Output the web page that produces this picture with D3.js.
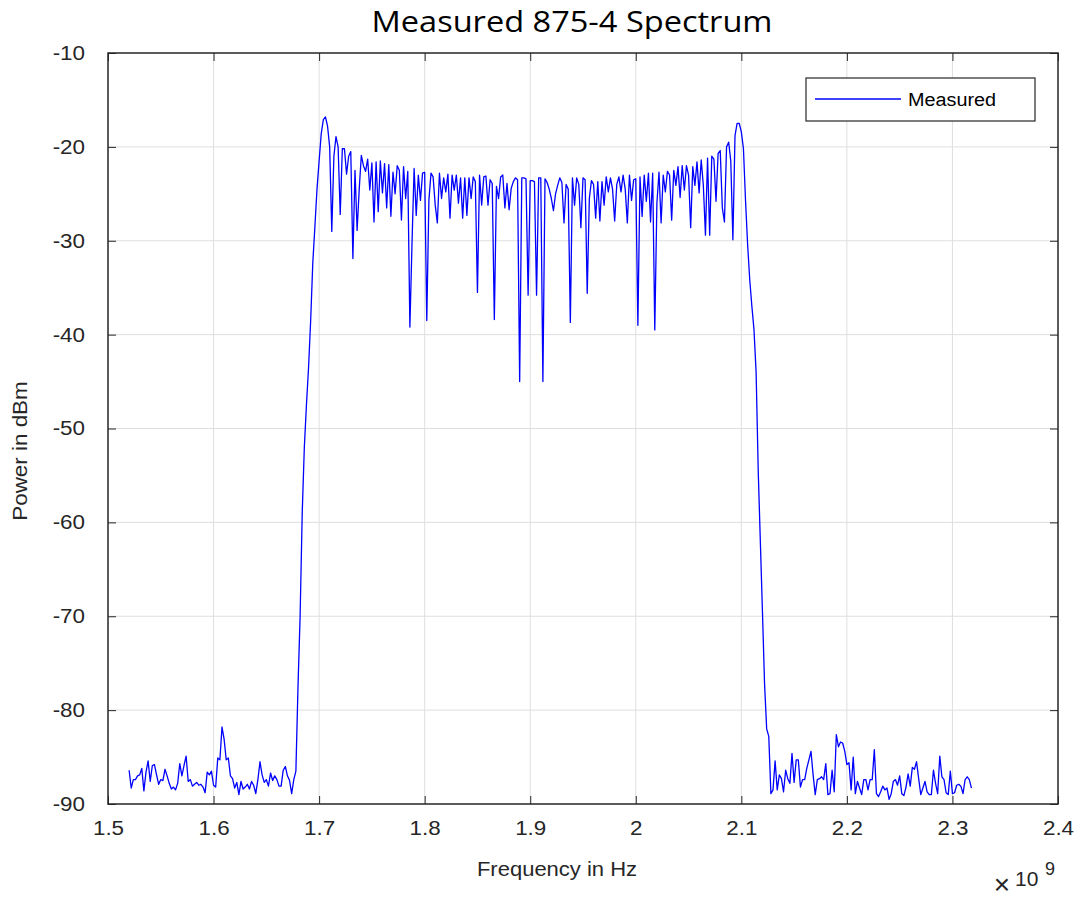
<!DOCTYPE html>
<html>
<head>
<meta charset="utf-8">
<script src="https://cdn.jsdelivr.net/npm/d3@7"></script>
<style>
  html, body { margin: 0; padding: 0; background: #ffffff; }
  svg { display: block; }
</style>
</head>
<body>
<script>
// ---------------- DATA ----------------
const chartTitle = "Measured 875-4 Spectrum";
const xLabel = "Frequency in Hz";
const yLabel = "Power in dBm";
const seriesName = "Measured";

const xTicks = [1.5e9, 1.6e9, 1.7e9, 1.8e9, 1.9e9, 2.0e9, 2.1e9, 2.2e9, 2.3e9, 2.4e9];
const yTicks = [-10, -20, -30, -40, -50, -60, -70, -80, -90];

// uniform sweep: first frequency and spacing of samples (Hz)
const sweepStartHz = 1.52e9;
const sweepStepHz = 2e6;

// measured power (dBm), in sweep order
const noiseLow = [
  -86.4,-88.3,-87.4,-87.4,-87.0,-86.9,-86.2,-88.6,-86.6,-85.4,
  -87.6,-85.9,-85.8,-86.9,-87.9,-87.4,-87.5,-86.3,-87.0,-87.8,
  -88.4,-88.2,-88.5,-87.8,-85.7,-87.0,-85.9,-84.9,-87.6,-87.4,
  -88.1,-87.9,-87.7,-88.0,-87.9,-88.2,-88.8,-86.6,-86.9,-86.5,
  -88.0,-88.2,-85.1,-85.3,-81.8,-83.1,-85.3,-85.1,-87.0,-87.3,
  -88.3,-87.7,-89.0,-87.6,-88.4,-88.2,-87.9,-88.4,-87.6,-88.0,
  -88.9,-87.4,-85.5,-86.9,-87.7,-87.4,-88.1,-86.7,-87.5,-87.0,
  -87.4,-88.1,-88.1,-86.4,-86.0,-87.0,-87.5,-88.9,-87.4
];
const risingEdge = [
  -86.5,-77.5,-70.0,-59.0,-52.0,-47.5,-43.5,-38.5,-32.4,-28.5,
  -24.5,-21.5,-18.6,-17.1,-16.8,-17.8,-20.0,-29.0
];
const passband = [
  -21.0,-18.9,-20.0,-27.2,-20.2,-20.2,-22.9,-21.0,-20.5,-31.9,
  -22.5,-28.9,-24.5,-20.9,-22.0,-22.6,-21.3,-24.6,-21.7,-28.0,
  -21.6,-26.9,-21.5,-24.9,-21.8,-26.5,-21.9,-27.4,-22.7,-25.0,
  -22.0,-22.5,-27.8,-22.1,-25.5,-22.6,-39.2,-30.3,-22.3,-27.3,
  -23.0,-25.7,-22.8,-22.7,-38.5,-25.7,-22.8,-23.2,-26.2,-28.1,
  -22.8,-25.5,-23.3,-24.8,-22.9,-27.6,-23.0,-24.6,-23.0,-26.0,
  -23.3,-27.6,-23.3,-27.3,-23.3,-25.5,-23.2,-23.7,-35.5,-23.0,
  -26.2,-23.2,-23.1,-26.2,-23.5,-23.9,-38.4,-24.2,-25.5,-23.2,
  -23.0,-26.5,-23.9,-26.7,-24.4,-23.7,-23.3,-23.5,-45.0,-23.3,
  -23.3,-23.4,-35.8,-23.6,-23.6,-23.7,-35.8,-23.3,-23.3,-45.0,
  -23.4,-23.8,-24.5,-25.5,-26.8,-25.0,-24.1,-23.3,-23.8,-28.1,
  -24.0,-24.5,-38.7,-23.3,-26.2,-23.3,-24.0,-28.6,-23.3,-23.5,
  -35.6,-25.5,-23.6,-24.0,-27.6,-23.7,-27.9,-23.7,-26.2,-23.2,
  -24.8,-23.3,-24.5,-27.9,-24.0,-23.2,-24.8,-23.0,-24.5,-28.1,
  -23.0,-25.7,-23.5,-23.4,-39.0,-23.2,-27.4,-23.0,-25.8,-22.8,
  -28.0,-22.8,-39.5,-26.0,-22.7,-28.1,-23.0,-24.8,-22.6,-23.0,
  -27.8,-22.5,-24.1,-22.1,-25.4,-22.0,-24.6,-22.0,-23.0,-28.6,
  -22.1,-24.1,-21.6,-24.9,-21.4,-24.1,-29.4,-21.2,-29.4,-21.0,
  -21.3,-25.8,-20.7,-20.4,-26.5,-28.0,-20.0,-19.5,-21.5,-29.9,
  -18.8,-17.5,-17.5,-18.4,-20.2
];
const fallingEdge = [
  -25.8,-30.5,-34.2,-37.0,-39.5,-44.0,-54.5,-62.0,-69.5,-77.2,
  -82.0,-82.8,-88.9
];
const noiseHigh = [
  -88.5,-85.4,-88.5,-86.9,-87.3,-88.7,-86.4,-87.3,-87.8,-84.6,
  -87.7,-85.3,-85.3,-88.2,-87.4,-87.4,-86.2,-85.3,-84.4,-86.9,
  -89.0,-87.4,-87.3,-87.1,-87.4,-85.7,-89.0,-88.9,-86.4,-88.7,
  -82.6,-83.9,-83.4,-83.5,-84.4,-85.8,-85.6,-88.5,-85.0,-88.9,
  -87.6,-88.3,-89.0,-87.4,-87.4,-88.5,-87.4,-87.4,-84.2,-88.9,
  -89.2,-88.7,-88.1,-88.5,-88.3,-89.5,-88.9,-87.6,-87.4,-88.0,
  -87.0,-88.9,-89.1,-88.2,-86.8,-88.1,-86.1,-86.3,-85.5,-87.3,
  -89.0,-88.3,-87.6,-88.7,-89.0,-89.0,-86.4,-87.8,-88.9,-84.9,
  -87.1,-87.4,-88.8,-89.0,-86.5,-88.9,-88.8,-88.0,-87.9,-88.1,
  -88.9,-87.4,-87.1,-87.4,-88.3
];

// ---------------- CHART ----------------
const W = 1075, H = 899;
const M = { left: 108, top: 53, right: 17, bottom: 95 };
const pw = W - M.left - M.right;   // 950
const ph = H - M.top - M.bottom;   // 751

const power = [].concat(noiseLow, risingEdge, passband, fallingEdge, noiseHigh);
const data = power.map((p, i) => ({ f: sweepStartHz + i * sweepStepHz, p }));

const x = d3.scaleLinear().domain([1.5e9, 2.4e9]).range([0, pw]);
const y = d3.scaleLinear().domain([-90, -10]).range([ph, 0]);

const FONT = "'Liberation Sans', Arial, Helvetica, sans-serif";
const AX = "#262626";

function stretch(sel, k) {
  sel.each(function () {
    const L = this.getComputedTextLength();
    d3.select(this).attr("textLength", L * k).attr("lengthAdjust", "spacingAndGlyphs");
  });
}

const svg = d3.select("body").append("svg").attr("width", W).attr("height", H);
svg.append("rect").attr("width", W).attr("height", H).attr("fill", "#fff");

const g = svg.append("g").attr("transform", `translate(${M.left},${M.top})`);

// grid
g.append("g").selectAll("line").data(xTicks.slice(1, -1)).join("line")
  .attr("x1", d => x(d)).attr("x2", d => x(d)).attr("y1", 0).attr("y2", ph)
  .attr("stroke", "#dfdfdf").attr("stroke-width", 1);
g.append("g").selectAll("line").data(yTicks.slice(1, -1)).join("line")
  .attr("x1", 0).attr("x2", pw).attr("y1", d => y(d)).attr("y2", d => y(d))
  .attr("stroke", "#dfdfdf").attr("stroke-width", 1);

// data line
g.append("path").datum(data)
  .attr("fill", "none").attr("stroke", "#0000ff").attr("stroke-width", 1.3)
  .attr("stroke-linejoin", "round")
  .attr("d", d3.line().x(d => x(d.f)).y(d => y(d.p)));

// axes (ticks inward)
const fmtX = d => String(+(d / 1e9).toFixed(1));
const tickLen = 8;
const axB = g.append("g").attr("transform", `translate(0,${ph})`)
  .call(d3.axisBottom(x).tickValues(xTicks).tickFormat(fmtX).tickSizeInner(-tickLen).tickSizeOuter(0).tickPadding(17));
const axT = g.append("g")
  .call(d3.axisTop(x).tickValues(xTicks).tickFormat("").tickSizeInner(-tickLen).tickSizeOuter(0));
const axL = g.append("g")
  .call(d3.axisLeft(y).tickValues(yTicks).tickFormat(d => String(d)).tickSizeInner(-tickLen).tickSizeOuter(0).tickPadding(23));
const axR = g.append("g").attr("transform", `translate(${pw},0)`)
  .call(d3.axisRight(y).tickValues(yTicks).tickFormat("").tickSizeInner(-tickLen).tickSizeOuter(0));

[axB, axT, axL, axR].forEach(a => {
  a.select(".domain").remove();
  a.selectAll(".tick line").attr("stroke", AX).attr("stroke-width", 1);
  a.selectAll("text").attr("fill", "#262626").style("font-family", FONT).style("font-size", "20px");
});
stretch(axB.selectAll("text"), 1.12);
stretch(axL.selectAll("text"), 1.12);

// frame
g.append("rect").attr("x", 0).attr("y", 0).attr("width", pw).attr("height", ph)
  .attr("fill", "none").attr("stroke", AX).attr("stroke-width", 1.5);

// title
svg.append("text").attr("x", 572).attr("y", 32).attr("text-anchor", "middle")
  .style("font-family", "'Open Sans', 'Noto Sans', sans-serif").style("font-size", "30px")
  .attr("textLength", 401).attr("lengthAdjust", "spacingAndGlyphs")
  .attr("fill", "#000").text(chartTitle);

// axis labels
const xl = svg.append("text").attr("x", 557).attr("y", 876).attr("text-anchor", "middle")
  .style("font-family", FONT).style("font-size", "20px").attr("fill", "#262626").text(xLabel);
const yl = svg.append("text").attr("transform", "translate(27,451) rotate(-90)").attr("text-anchor", "middle")
  .style("font-family", FONT).style("font-size", "20px").attr("fill", "#262626").text(yLabel);
stretch(xl, 1.1);
stretch(yl, 1.12);

// exponent label
const ex = svg.append("g").attr("fill", "#262626").style("font-family", FONT);
ex.append("text").attr("x", 1002).attr("y", 894).attr("text-anchor", "middle").style("font-size", "28px").text("\u00d7");
ex.append("text").attr("x", 1015).attr("y", 886).style("font-size", "21px").text("10");
ex.append("text").attr("x", 1045).attr("y", 875).style("font-size", "18px").text("9");

// legend
const lg = svg.append("g").attr("transform", "translate(806,78)");
lg.append("rect").attr("x", 0).attr("y", 0).attr("width", 229).attr("height", 43)
  .attr("fill", "#fff").attr("stroke", "#262626").attr("stroke-width", 1.2);
lg.append("line").attr("x1", 9).attr("x2", 95).attr("y1", 21).attr("y2", 21)
  .attr("stroke", "#0000ff").attr("stroke-width", 1.3);
const lt = lg.append("text").attr("x", 102).attr("y", 23).attr("dominant-baseline", "middle")
  .style("font-family", FONT).style("font-size", "18px").attr("fill", "#000").text(seriesName);
stretch(lt, 1.1);
</script>
</body>
</html>
